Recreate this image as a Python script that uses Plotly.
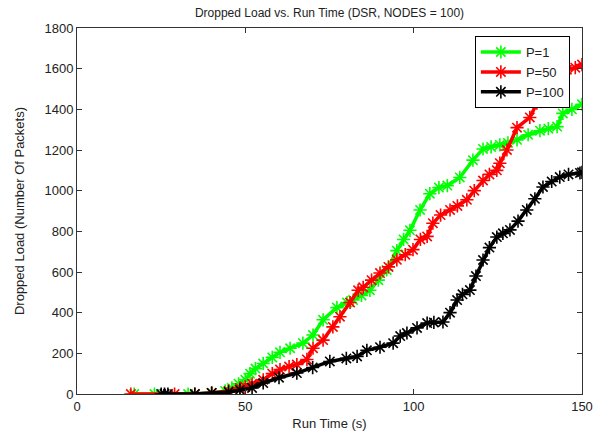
import plotly.graph_objects as go

# ---- data ----
p1_x = [17, 23, 33, 40, 44, 46, 48, 50, 51.4, 53, 55.3, 58, 60.3, 63.3, 67.1, 70.1, 73.1, 77.2, 80.2, 82,
        84.5, 87, 89.5, 92, 95, 97, 98.9, 101.9, 104.8, 107.5, 110, 113.7, 117.6, 120.6, 123, 125.6, 128,
        130.7, 134, 137.5, 140, 142.6, 144.3, 147, 150]
p1_y = [0, 0, 0, 5, 15, 30, 50, 70, 100, 125, 150, 180, 205, 225, 250, 290, 365, 425, 450, 462,
        485, 510, 560, 610, 705, 760, 805, 905, 985, 1015, 1025, 1065, 1150, 1205, 1215, 1225, 1235,
        1250, 1275, 1295, 1305, 1315, 1380, 1400, 1425]

p50_x = [16, 29, 35, 40, 45, 48.4, 50, 52, 55.3, 58, 60.3, 63, 65.3, 68.3, 70.1, 73.1, 76, 78.1, 81.1, 83.5,
         85, 87.5, 90, 92.5, 95, 97.5, 99.8, 102, 104, 105.7, 108, 110.8, 113, 115.8, 118, 120.6, 122.5,
         124.7, 125.6, 127.7, 130.7, 134.5, 136.6, 137.5, 140.5, 143, 145.5, 148, 150]
p50_y = [0, 0, 0, 5, 15, 30, 35, 50, 70, 100, 120, 135, 145, 170, 225, 265, 330, 380, 450, 510,
         525, 560, 595, 625, 660, 685, 710, 760, 775, 840, 880, 905, 925, 955, 1000, 1050, 1080,
         1100, 1135, 1200, 1310, 1360, 1430, 1545, 1590, 1590, 1595, 1605, 1620]

p100_x = [25, 26, 27, 35, 40, 45, 48.4, 52, 55.3, 60, 65.3, 70, 75.1, 80, 83.2, 86.1, 90, 93.9, 96, 98,
          101, 104, 106, 108.7, 110.8, 112.9, 114.5, 116.7, 118.5, 120.6, 122.5, 124.7, 126.5, 128.6,
          131, 133.6, 136, 138.4, 141, 143.4, 146, 149.4, 150]
p100_y = [0, 0, 0, 0, 5, 10, 20, 30, 54, 80, 103, 130, 160, 175, 185, 215, 230, 250, 285, 300,
          325, 349, 352, 354, 400, 462, 490, 511, 580, 659, 720, 772, 790, 807,
          850, 905, 960, 1018, 1045, 1067, 1080, 1087, 1090]

x_ticks = [0, 50, 100, 150]
y_ticks = [0, 200, 400, 600, 800, 1000, 1200, 1400, 1600, 1800]

series = [
    ("P=1", p1_x, p1_y, "#00ff00"),
    ("P=50", p50_x, p50_y, "#ff0000"),
    ("P=100", p100_x, p100_y, "#000000"),
]

fig = go.Figure()
for name, xs, ys, col in series:
    fig.add_trace(go.Scatter(
        x=xs, y=ys, name=name, mode="lines+markers",
        line=dict(color=col, width=3.5),
        marker=dict(symbol="asterisk", size=11, color=col, line=dict(color=col, width=1.6)),
    ))

font_family = "Liberation Sans, Arial, sans-serif"
fig.update_layout(
    width=597, height=431,
    margin=dict(l=77, r=15, t=28, b=37, autoexpand=False),
    paper_bgcolor="white", plot_bgcolor="white",
    font=dict(family=font_family, color="#222"),
    title=dict(text="Dropped Load vs. Run Time (DSR, NODES = 100)",
               x=329.5 / 597, xanchor="center", y=1 - 13 / 431, yanchor="middle",
               font=dict(size=12, color="#222")),
    showlegend=True,
    legend=dict(x=0.976, y=0.978, xanchor="right", yanchor="top",
                bordercolor="#000", borderwidth=1, bgcolor="white",
                font=dict(size=13, color="#222"), tracegroupgap=0,
                itemwidth=40),
)
axis_common = dict(
    showline=True, linecolor="#333", linewidth=1, mirror="ticks",
    ticks="inside", ticklen=5, tickcolor="#333", showgrid=False, zeroline=False,
    tickfont=dict(size=13, color="#222"), automargin=False,
)
fig.update_xaxes(range=[0, 150], tickvals=x_ticks, ticktext=[str(v) for v in x_ticks],
                 title=dict(text="Run Time (s)", font=dict(size=13), standoff=10), **axis_common)
fig.update_yaxes(range=[0, 1800], tickvals=y_ticks, ticktext=[str(v) for v in y_ticks],
                 title=dict(text="Dropped Load (Number Of Packets)", font=dict(size=13), standoff=16),
                 **axis_common)

fig.write_html("out.html")
